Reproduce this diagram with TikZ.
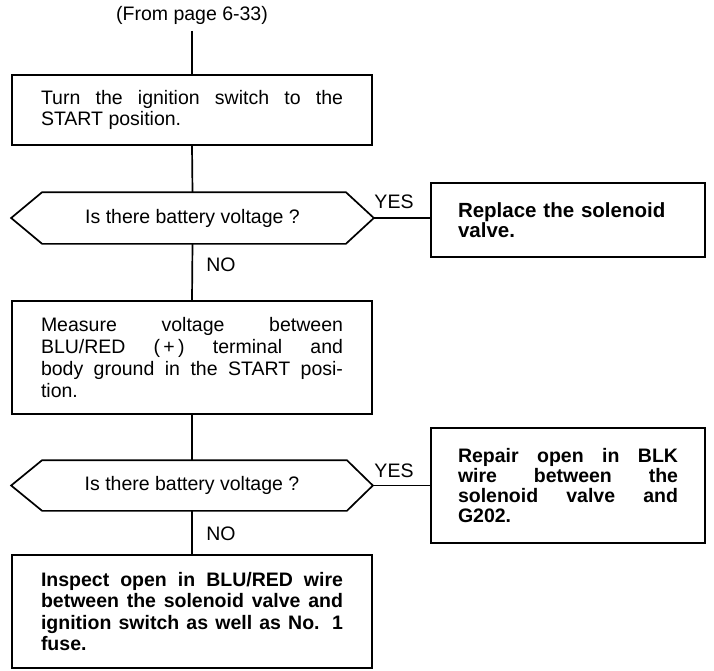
\documentclass[tikz,border=0pt]{standalone}
\usepackage{fontspec}
\setmainfont{Liberation Sans}
\begin{document}
\begin{tikzpicture}[x=1pt,y=-1pt,line width=1.7pt,
  txt/.style={font=\fontsize{19.5}{21.7}\selectfont},
  box/.style={draw,rectangle,minimum width=360pt,text width=302pt,align=justify,inner xsep=0pt,inner ysep=0pt,txt},
  rbox/.style={draw,rectangle,minimum width=274pt,text width=220pt,inner xsep=0pt,inner ysep=0pt,font=\bfseries\fontsize{19.5}{20}\selectfont},
  dec/.style={rectangle,minimum height=50pt,inner sep=0pt,txt},
  lbl/.style={inner sep=1pt,txt}]
\useasboundingbox (0,0) rectangle (714,670);
\fill[white] (0,0) rectangle (714,670);

\node[lbl,inner ysep=6pt] (from) at (192,15) {(From page 6-33)};
\node[box,minimum height=70pt] (b1) at (192,110) {Turn the ignition switch to the\linebreak START position.};
\node[dec,minimum width=361pt] (d1) at (192.5,218) {Is there battery voltage ?};
\node[box,minimum height=113pt] (b2) at (192,357.5) {Measure voltage between\linebreak BLU/RED (\,+\,) terminal and\linebreak body ground in the START posi-\linebreak tion.};
\node[dec,minimum width=360pt,minimum height=49pt] (d2) at (192,485.5) {Is there battery voltage ?};
\node[box,minimum height=113pt,font=\bfseries\fontsize{19.5}{21.2}\selectfont] (b3) at (192,611.5) {Inspect open in BLU/RED wire\linebreak between the solenoid valve and\linebreak ignition switch as well as No. 1\linebreak fuse.};
\node[rbox,minimum height=74pt,align=left,font=\bfseries\fontsize{20.5}{20}\selectfont] (r1) at (568,220) {Replace the solenoid\\valve.};
\node[rbox,minimum height=115pt,align=justify] (r2) at (568,485.5) {Repair open in BLK\linebreak wire between the\linebreak solenoid valve and\linebreak G202.};

% decision outlines
\draw (d1.west) -- ([xshift=31pt]d1.north west) -- ([xshift=-28pt]d1.north east) -- (d1.east)
  -- ([xshift=-28pt]d1.south east) -- ([xshift=31pt]d1.south west) -- cycle;
\draw (d2.west) -- ([xshift=31pt]d2.north west) -- ([xshift=-26pt]d2.north east) -- (d2.east)
  -- ([xshift=-26pt]d2.south east) -- ([xshift=31pt]d2.south west) -- cycle;

% connectors
\draw (from.south) -- (b1.north);
\draw (b1.south) -- (d1.north);
\draw (d1.south) -- (b2.north);
\draw (b2.south) -- (d2.north);
\draw (d2.south) -- (b3.north);
\draw (d1.east) -- (d1.east -| r1.west);
\draw (d2.east) -- (d2.east -| r2.west);

% labels
\node[lbl] (no1) at (221,265) {NO};
\node[lbl] (no2) at (221,534) {NO};
\node[lbl] (yes1) at (394,202) {YES};
\node[lbl] (yes2) at (394,471) {YES};
\end{tikzpicture}
\end{document}
